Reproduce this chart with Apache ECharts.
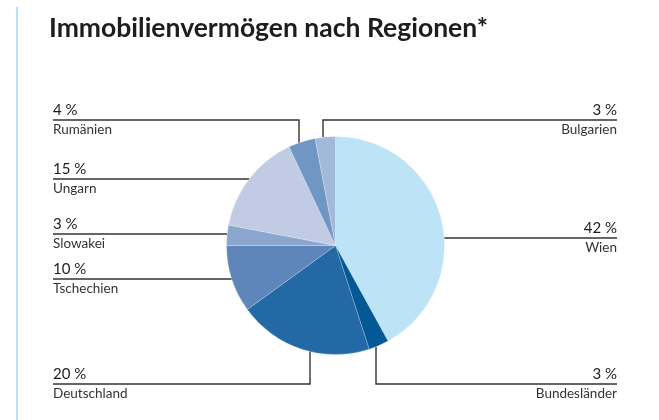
<!DOCTYPE html>
<html>
<head>
<meta charset="utf-8">
<script src="https://cdn.jsdelivr.net/npm/echarts@6/dist/echarts.min.js"></script>
<style>
  html, body { margin: 0; padding: 0; background: #fff; }
  #chart { width: 659px; height: 420px; }
</style>
</head>
<body>
<div id="chart"></div>
<script>
// Anteile in Prozent, im Uhrzeigersinn ab 12 Uhr
const regions = ['Wien', 'Bundesländer', 'Deutschland', 'Tschechien', 'Slowakei', 'Ungarn', 'Rumänien', 'Bulgarien']
const shares = [42, 3, 20, 10, 3, 15, 4, 3]
const sliceColors = ['#bde3f7', '#035896', '#2369a5', '#5e86ba', '#8ba6cf', '#c1cce4', '#7096c4', '#a3b9d9']

// label placement: side, y of the leader line, optional x of a vertical drop
const labelPlacement = [
  { side: 'right', y: 238 },
  { side: 'right', y: 384, x: 376 },
  { side: 'left', y: 384, x: 310 },
  { side: 'left', y: 279 },
  { side: 'left', y: 234 },
  { side: 'left', y: 179 },
  { side: 'left', y: 120, x: 299 },
  { side: 'right', y: 120, x: 323 },
]

const CX = 335.5
const CY = 245.5
const R = 109
const LEFT_X = 53
const RIGHT_X = 617

const chart = echarts.init(document.getElementById('chart'), null, { renderer: 'canvas' })

function placeLabel(params) {
  const p = labelPlacement[params.dataIndex]
  const endX = p.side === 'left' ? LEFT_X : RIGHT_X
  let pts
  if (p.x != null) {
    const dy = Math.sqrt(R * R - (p.x - CX) * (p.x - CX))
    const ay = p.y < CY ? CY - dy : CY + dy
    pts = [[p.x, ay], [p.x, p.y], [endX, p.y]]
  } else {
    const dx = Math.sqrt(R * R - (p.y - CY) * (p.y - CY))
    const ax = p.side === 'left' ? CX - dx : CX + dx
    pts = [[ax, p.y], [ax, p.y], [endX, p.y]]
  }
  return {
    x: endX,
    y: p.y,
    align: p.side,
    verticalAlign: 'middle',
    labelLinePoints: pts,
  }
}

chart.setOption({
  backgroundColor: '#fff',
  animation: false,
  title: {
    text: 'Immobilienvermögen nach Regionen*',
    left: 44,
    top: 10,
    textStyle: { fontFamily: 'Lato', fontSize: 26.5, fontWeight: 'bold', color: '#1d1d1b' },
  },
  graphic: [
    { type: 'rect', left: 16, top: 7, shape: { width: 2, height: 413 }, style: { fill: '#bde0f5' } },
  ],
  series: [
    {
      type: 'pie',
      center: [CX, CY],
      radius: R,
      startAngle: 90,
      clockwise: true,
      silent: true,
      itemStyle: { borderColor: 'rgba(255,255,255,0.35)', borderWidth: 0.6 },
      data: regions.map((name, i) => ({ name, value: shares[i], itemStyle: { color: sliceColors[i] } })),
      label: {
        show: true,
        formatter: (p) => '{p|' + p.value + ' %}\n{n|' + p.name + '}',
        rich: {
          p: { fontFamily: 'Lato', fontSize: 15, color: '#1d1d1b', lineHeight: 18, padding: [0, 0, 2, 0] },
          n: { fontFamily: 'Lato', fontSize: 13.5, color: '#333', lineHeight: 18, padding: [2, 0, 0, 0] },
        },
      },
      labelLine: { show: true, smooth: false, lineStyle: { color: '#333', width: 1.4 } },
      labelLayout: placeLabel,
    },
  ],
})
</script>
</body>
</html>
